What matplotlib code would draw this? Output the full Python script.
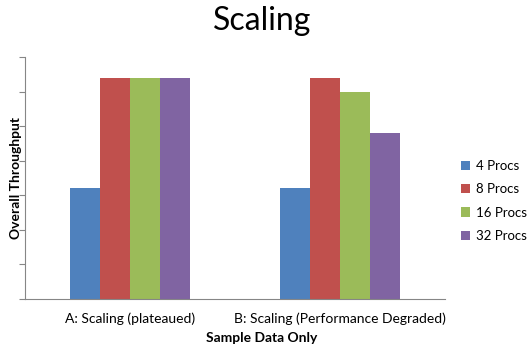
import numpy as np
import matplotlib.pyplot as plt

# categories and series
categories = ['A: Scaling (plateaued)', 'B: Scaling (Performance Degraded)']
series_names = ['4 Procs', '8 Procs', '16 Procs', '32 Procs']
procs_4 = [3.2, 3.2]
procs_8 = [6.4, 6.4]
procs_16 = [6.4, 6.0]
procs_32 = [6.4, 4.8]

colors = ['#4F81BD', '#C0504D', '#9BBB59', '#8064A2']
plt.rcParams['font.family'] = ['Lato', 'DejaVu Sans']

fig = plt.figure(figsize=(5.28, 3.51), dpi=100)
ax = fig.add_axes([25 / 528, 1 - 299 / 351, 420 / 528, 242 / 351])

x = np.arange(len(categories))
width = 1 / 7
all_series = [procs_4, procs_8, procs_16, procs_32]
for i, vals in enumerate(all_series):
    ax.bar(x + (i - 1.5) * width, vals, width, color=colors[i], label=series_names[i])

ax.set_xlim(-0.5, 1.5)
ax.set_ylim(0, 7)
ax.set_yticks(np.arange(0, 8, 1))
ax.set_yticklabels([])
ax.set_xticks(x)
ax.set_xticklabels(categories, fontsize=10)
ax.tick_params(axis='x', length=0, pad=10)
ax.tick_params(axis='y', length=4, color='#868686', direction='out')
for side in ['top', 'right']:
    ax.spines[side].set_visible(False)
for side in ['left', 'bottom']:
    ax.spines[side].set_color('#868686')

# axis titles placed like the Excel chart
fig.text(262 / 528, 1 - 338 / 351, 'Sample Data Only', ha='center', va='center',
         fontsize=10, fontweight='bold')
fig.text(16 / 528, 1 - 178 / 351, 'Overall Throughput', ha='center', va='center',
         rotation=90, fontsize=10, fontweight='bold')
fig.text(262 / 528, 1 - 21 / 351, 'Scaling', ha='center', va='center', fontsize=23)

ax.legend(loc='center left', bbox_to_anchor=(461 / 528, 1 - 201 / 351), bbox_transform=fig.transFigure,
          frameon=False, fontsize=9.5, handlelength=0.7, handleheight=0.7, handletextpad=0.4,
          labelspacing=0.85, borderaxespad=0, borderpad=0)

fig.savefig('out.png', dpi=100)
